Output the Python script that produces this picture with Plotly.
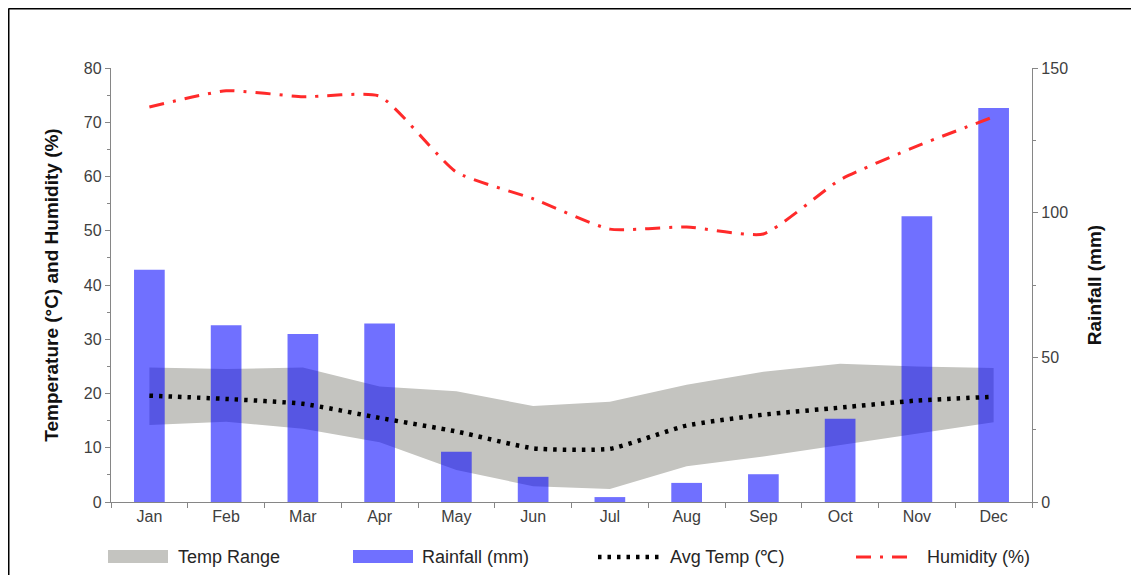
import plotly.graph_objects as go

months = ["Jan", "Feb", "Mar", "Apr", "May", "Jun", "Jul", "Aug", "Sep", "Oct", "Nov", "Dec"]
temp_max = [24.8, 24.5, 24.8, 21.3, 20.4, 17.7, 18.5, 21.6, 24.0, 25.5, 25.0, 24.7]
temp_min = [14.2, 14.8, 13.5, 11.0, 5.9, 2.9, 2.4, 6.6, 8.4, 10.5, 12.7, 14.7]
avg_temp = [19.6, 19.0, 18.1, 15.5, 13.0, 9.9, 9.8, 14.1, 16.1, 17.4, 18.7, 19.4]
rainfall = [80.3, 61.1, 58.1, 61.7, 17.4, 8.7, 1.7, 6.6, 9.6, 28.8, 98.8, 136.2]
humidity = [72.8, 75.8, 74.7, 74.8, 60.8, 55.9, 50.3, 50.7, 49.4, 59.4, 65.6, 71.0]

series_names = ["Temp Range", "Rainfall (mm)", "Avg Temp (\u2103)", "Humidity (%)"]

FONT = "Liberation Sans, Arial, sans-serif"
AXIS_COLOR = "#868686"
BAND_COLOR = "#c4c4c0"
BAR_COLOR = "rgba(0,0,255,0.56)"
AVG_COLOR = "#000000"
HUM_COLOR = "#ff2a2a"
AVG_DASH = "3.5px,6px"
HUM_DASH = "15px,9px,3px,9px"
TICK_FONT = dict(family=FONT, size=16, color="#404040")
TITLE_FONT = dict(family=FONT, size=19, color="#111111")

# page offset (body margin) between figure and screenshot coordinates
OFF = 8
W, H = 1139 - OFF, 575 - OFF
L, T = 111 - OFF, 68 - OFF
PW, PH = 921, 434
R, B = W - L - PW, H - T - PH


def px_x(sx):
    return (sx - OFF - L) / PW


def px_y(sy):
    return (T + PH - (sy - OFF)) / PH


fig = go.Figure()

# Temperature range band (primary y axis, bottom layer)
fig.add_trace(go.Scatter(
    x=months, y=temp_min, yaxis="y", mode="lines",
    line=dict(width=0, color="rgba(0,0,0,0)"), showlegend=False, hoverinfo="skip",
))
fig.add_trace(go.Scatter(
    x=months, y=temp_max, yaxis="y", mode="lines", name=series_names[0],
    line=dict(width=0, color=BAND_COLOR), fill="tonexty", fillcolor=BAND_COLOR,
    showlegend=False,
))

# Rainfall bars (right axis, above band)
fig.add_trace(go.Bar(
    x=months, y=rainfall, yaxis="y2", name=series_names[1], width=0.4,
    marker=dict(color=BAR_COLOR, line=dict(width=0)), showlegend=False,
))

# Lines (temperature scale, top layer)
fig.add_trace(go.Scatter(
    x=months, y=avg_temp, yaxis="y3", mode="lines", name=series_names[2],
    line=dict(color=AVG_COLOR, width=4.5, dash=AVG_DASH, shape="spline", smoothing=0.5),
    showlegend=False,
))
fig.add_trace(go.Scatter(
    x=months, y=humidity, yaxis="y3", mode="lines", name=series_names[3],
    line=dict(color=HUM_COLOR, width=3, dash=HUM_DASH, shape="spline", smoothing=0.5),
    showlegend=False,
))

axis_common = dict(
    showline=True, linecolor=AXIS_COLOR, linewidth=1.3, showgrid=False, zeroline=False,
    ticks="outside", ticklen=5, tickcolor=AXIS_COLOR, tickfont=TICK_FONT, automargin=False,
)

# Legend drawn below the plot: swatches + labels
legend_y = 557
shapes = [
    dict(type="line", xref="paper", yref="paper", x0=px_x(8.5), x1=px_x(1160), y0=px_y(8.5), y1=px_y(8.5),
         line=dict(color="black", width=2)),
    dict(type="line", xref="paper", yref="paper", x0=px_x(8.5), x1=px_x(8.5), y0=px_y(600), y1=px_y(8.5),
         line=dict(color="black", width=2)),
    dict(type="rect", xref="paper", yref="paper", x0=px_x(108), x1=px_x(168),
         y0=px_y(legend_y + 6), y1=px_y(legend_y - 7), fillcolor=BAND_COLOR, line=dict(width=0)),
    dict(type="rect", xref="paper", yref="paper", x0=px_x(353), x1=px_x(413),
         y0=px_y(legend_y + 6), y1=px_y(legend_y - 7), fillcolor=BAR_COLOR, line=dict(width=0)),
    dict(type="line", xref="paper", yref="paper", x0=px_x(598), x1=px_x(662),
         y0=px_y(legend_y), y1=px_y(legend_y), line=dict(color=AVG_COLOR, width=4.5, dash=AVG_DASH)),
    dict(type="line", xref="paper", yref="paper", x0=px_x(856), x1=px_x(909),
         y0=px_y(legend_y), y1=px_y(legend_y), line=dict(color=HUM_COLOR, width=3, dash=HUM_DASH)),
]
label_x = [176, 420, 668, 925]
annotations = [
    dict(text=name, x=px_x(lx), y=px_y(legend_y), xref="paper", yref="paper",
         xanchor="left", yanchor="middle", showarrow=False,
         font=dict(family=FONT, size=18, color="#262626"))
    for name, lx in zip(series_names, label_x)
]

fig.update_layout(
    width=W, height=H,
    margin=dict(l=L, r=R, t=T, b=B),
    paper_bgcolor="white", plot_bgcolor="white",
    barmode="overlay",
    showlegend=False,
    xaxis=dict(
        type="category", range=[-0.5, 11.5], tickson="boundaries", **axis_common,
    ),
    yaxis=dict(
        range=[0, 80], dtick=10, side="left",
        minor=dict(dtick=5, ticks="outside", ticklen=3, tickcolor=AXIS_COLOR),
        title=dict(text="<b>Temperature (\u00b0C) and Humidity (%)</b>", font=TITLE_FONT, standoff=20),
        **axis_common,
    ),
    yaxis2=dict(
        range=[0, 150], dtick=50, side="right", overlaying="y",
        minor=dict(dtick=25, ticks="outside", ticklen=3, tickcolor=AXIS_COLOR),
        title=dict(text="<b>Rainfall (mm)</b>", font=TITLE_FONT, standoff=20),
        **axis_common,
    ),
    yaxis3=dict(range=[0, 80], overlaying="y", visible=False),
    shapes=shapes,
    annotations=annotations,
)

fig.write_html("out.html")
